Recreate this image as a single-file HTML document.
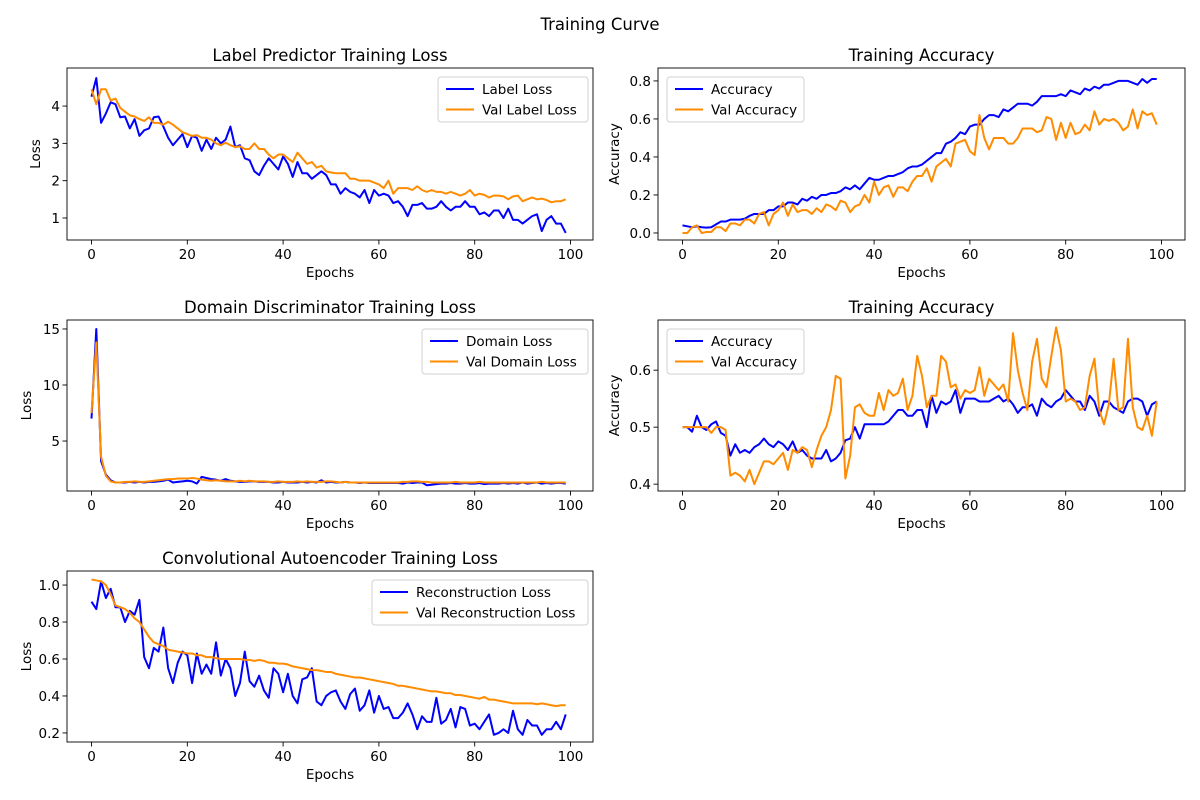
<!DOCTYPE html>
<html><head><meta charset="utf-8"><style>
html,body{margin:0;padding:0;background:#fff;}
svg{display:block;font-family:"DejaVu Sans","Liberation Sans",sans-serif;}
</style></head><body>
<svg id="fig" width="1200" height="800" viewBox="0 0 1200 800" xmlns="http://www.w3.org/2000/svg">
<rect width="1200" height="800" fill="#fff"/>
<text x="600" y="30" font-size="16.5" text-anchor="middle">Training Curve</text>
</svg>
<script>
const epochs = Array.from({length:100},(_,i)=>i);
const labelLoss=[4.25,4.75,3.55,3.8,4.1,4.05,3.7,3.72,3.4,3.65,3.2,3.35,3.4,3.7,3.72,3.45,3.15,2.95,3.1,3.25,2.9,3.2,3.15,2.8,3.1,2.85,3.15,3.0,3.1,3.45,2.9,2.95,2.6,2.55,2.25,2.15,2.4,2.6,2.45,2.3,2.65,2.45,2.1,2.5,2.2,2.2,2.05,2.15,2.25,2.15,1.9,1.9,1.65,1.8,1.7,1.65,1.55,1.75,1.4,1.75,1.6,1.65,1.6,1.4,1.45,1.3,1.05,1.35,1.35,1.4,1.25,1.25,1.3,1.45,1.3,1.2,1.3,1.3,1.45,1.3,1.3,1.1,1.15,1.05,1.2,1.2,1.0,1.25,0.95,0.95,0.85,0.95,1.05,1.1,0.65,0.95,1.05,0.85,0.85,0.6];
const valLabelLoss=[4.45,4.05,4.45,4.45,4.15,4.2,3.95,3.85,3.75,3.72,3.65,3.6,3.7,3.55,3.55,3.5,3.58,3.5,3.4,3.3,3.25,3.2,3.22,3.15,3.15,3.1,3.0,2.95,3.02,2.95,2.9,2.92,2.85,2.85,3.0,2.85,2.85,2.7,2.6,2.7,2.7,2.6,2.5,2.75,2.6,2.45,2.5,2.35,2.4,2.25,2.22,2.2,2.2,2.2,2.05,2.05,2.0,2.0,2.0,1.95,1.9,1.8,2.0,1.65,1.8,1.8,1.8,1.75,1.85,1.75,1.7,1.75,1.7,1.7,1.65,1.7,1.65,1.6,1.65,1.75,1.6,1.65,1.62,1.55,1.6,1.6,1.58,1.5,1.58,1.6,1.45,1.5,1.55,1.5,1.52,1.48,1.42,1.45,1.45,1.5];
const accuracy=[0.04,0.035,0.03,0.035,0.03,0.028,0.03,0.045,0.06,0.06,0.07,0.07,0.07,0.075,0.09,0.1,0.1,0.1,0.12,0.12,0.14,0.14,0.16,0.16,0.15,0.18,0.17,0.19,0.18,0.2,0.2,0.21,0.21,0.22,0.24,0.23,0.25,0.23,0.26,0.29,0.28,0.28,0.29,0.3,0.3,0.31,0.32,0.34,0.35,0.35,0.36,0.38,0.4,0.42,0.42,0.47,0.48,0.5,0.53,0.52,0.56,0.57,0.57,0.6,0.62,0.62,0.61,0.65,0.64,0.66,0.68,0.68,0.68,0.67,0.69,0.72,0.72,0.72,0.72,0.73,0.72,0.75,0.74,0.73,0.76,0.75,0.77,0.76,0.78,0.78,0.79,0.8,0.8,0.8,0.79,0.78,0.81,0.79,0.81,0.81];
const valAccuracy=[0.0,0.0,0.03,0.04,0.0,0.005,0.005,0.03,0.03,0.01,0.05,0.05,0.04,0.07,0.07,0.05,0.1,0.11,0.04,0.1,0.12,0.16,0.09,0.15,0.11,0.12,0.12,0.1,0.13,0.11,0.15,0.14,0.12,0.17,0.16,0.11,0.14,0.15,0.2,0.16,0.27,0.2,0.24,0.25,0.19,0.24,0.24,0.22,0.27,0.3,0.3,0.34,0.27,0.35,0.37,0.39,0.35,0.47,0.48,0.49,0.43,0.41,0.62,0.5,0.44,0.5,0.5,0.5,0.47,0.47,0.5,0.55,0.55,0.55,0.53,0.54,0.61,0.6,0.49,0.58,0.5,0.58,0.52,0.53,0.57,0.54,0.64,0.57,0.6,0.59,0.6,0.58,0.54,0.56,0.65,0.55,0.64,0.62,0.63,0.57];
const domainLoss=[7,15,3.2,2,1.5,1.3,1.3,1.3,1.35,1.3,1.35,1.3,1.35,1.35,1.4,1.45,1.55,1.3,1.35,1.4,1.45,1.4,1.2,1.8,1.7,1.6,1.55,1.45,1.6,1.45,1.4,1.35,1.35,1.4,1.4,1.35,1.35,1.35,1.3,1.3,1.35,1.3,1.3,1.3,1.35,1.3,1.35,1.3,1.5,1.3,1.35,1.3,1.3,1.35,1.3,1.3,1.25,1.3,1.25,1.25,1.25,1.25,1.25,1.25,1.25,1.2,1.3,1.25,1.3,1.3,1.05,1.1,1.15,1.2,1.2,1.25,1.2,1.2,1.25,1.2,1.2,1.25,1.15,1.2,1.2,1.2,1.25,1.2,1.25,1.2,1.3,1.2,1.25,1.3,1.2,1.25,1.2,1.25,1.25,1.2];
const valDomainLoss=[7.5,13.8,3.6,1.9,1.4,1.3,1.3,1.35,1.35,1.4,1.35,1.35,1.4,1.45,1.5,1.55,1.6,1.6,1.65,1.65,1.65,1.7,1.65,1.55,1.5,1.45,1.5,1.45,1.4,1.4,1.4,1.45,1.4,1.45,1.4,1.4,1.4,1.35,1.35,1.4,1.35,1.35,1.35,1.4,1.35,1.4,1.35,1.35,1.35,1.4,1.4,1.35,1.3,1.35,1.3,1.3,1.3,1.3,1.3,1.3,1.3,1.3,1.3,1.3,1.3,1.35,1.35,1.4,1.4,1.35,1.35,1.3,1.3,1.3,1.3,1.3,1.35,1.3,1.3,1.3,1.3,1.35,1.3,1.3,1.3,1.3,1.3,1.3,1.3,1.3,1.3,1.3,1.3,1.3,1.35,1.3,1.3,1.3,1.3,1.3];
const domainAcc=[0.5,0.5,0.492,0.52,0.5,0.495,0.505,0.51,0.49,0.485,0.45,0.47,0.455,0.46,0.455,0.465,0.47,0.48,0.47,0.465,0.475,0.47,0.46,0.475,0.455,0.46,0.45,0.445,0.445,0.445,0.46,0.44,0.445,0.455,0.477,0.48,0.5,0.48,0.505,0.505,0.505,0.505,0.505,0.51,0.52,0.53,0.53,0.52,0.52,0.53,0.53,0.5,0.555,0.525,0.545,0.54,0.545,0.565,0.525,0.55,0.55,0.55,0.545,0.545,0.545,0.55,0.555,0.545,0.55,0.54,0.525,0.535,0.535,0.54,0.52,0.55,0.54,0.535,0.545,0.55,0.565,0.555,0.545,0.545,0.53,0.555,0.545,0.52,0.545,0.545,0.535,0.53,0.525,0.545,0.55,0.55,0.545,0.52,0.54,0.545];
const valDomainAcc=[0.5,0.5,0.5,0.5,0.5,0.5,0.49,0.5,0.5,0.495,0.415,0.42,0.415,0.405,0.425,0.4,0.42,0.44,0.44,0.435,0.445,0.455,0.425,0.46,0.455,0.465,0.46,0.43,0.46,0.485,0.5,0.53,0.59,0.585,0.41,0.45,0.535,0.54,0.525,0.52,0.52,0.56,0.53,0.565,0.555,0.56,0.585,0.53,0.555,0.625,0.59,0.535,0.555,0.555,0.625,0.615,0.57,0.575,0.55,0.565,0.56,0.565,0.605,0.555,0.585,0.575,0.565,0.575,0.545,0.665,0.6,0.56,0.53,0.615,0.655,0.585,0.57,0.625,0.675,0.635,0.545,0.55,0.545,0.53,0.535,0.59,0.62,0.53,0.505,0.54,0.62,0.53,0.535,0.655,0.535,0.5,0.495,0.52,0.485,0.545];
const reconLoss=[0.91,0.87,1.02,0.93,0.98,0.88,0.88,0.8,0.86,0.84,0.92,0.61,0.55,0.66,0.64,0.77,0.55,0.47,0.58,0.64,0.62,0.47,0.63,0.52,0.57,0.52,0.69,0.51,0.6,0.55,0.4,0.47,0.64,0.48,0.45,0.51,0.43,0.39,0.55,0.52,0.42,0.52,0.4,0.36,0.49,0.5,0.55,0.37,0.35,0.4,0.42,0.43,0.37,0.33,0.41,0.44,0.32,0.35,0.43,0.31,0.4,0.33,0.34,0.28,0.28,0.31,0.36,0.3,0.22,0.29,0.26,0.26,0.39,0.25,0.27,0.33,0.23,0.34,0.33,0.24,0.25,0.22,0.26,0.3,0.19,0.2,0.22,0.2,0.32,0.22,0.19,0.27,0.24,0.24,0.19,0.22,0.22,0.26,0.22,0.3];
const valReconLoss=[1.03,1.025,1.02,1.0,0.95,0.89,0.88,0.87,0.85,0.82,0.8,0.76,0.72,0.69,0.68,0.67,0.65,0.645,0.64,0.635,0.63,0.63,0.62,0.62,0.61,0.61,0.605,0.6,0.6,0.6,0.6,0.6,0.595,0.595,0.59,0.595,0.59,0.58,0.58,0.575,0.575,0.57,0.56,0.555,0.55,0.545,0.54,0.54,0.535,0.53,0.53,0.52,0.515,0.51,0.505,0.5,0.5,0.495,0.49,0.485,0.48,0.475,0.47,0.465,0.455,0.455,0.45,0.445,0.44,0.435,0.43,0.425,0.425,0.42,0.415,0.415,0.405,0.405,0.4,0.395,0.39,0.385,0.395,0.38,0.38,0.375,0.37,0.365,0.36,0.36,0.36,0.36,0.36,0.355,0.36,0.355,0.35,0.345,0.35,0.35];
const xTicks=[0,20,40,60,80,100];
const ticks1=[1,2,3,4], ticks2=[0.0,0.2,0.4,0.6,0.8], ticks3=[5,10,15], ticks4=[0.4,0.5,0.6], ticks5=[0.2,0.4,0.6,0.8,1.0];

const NS='http://www.w3.org/2000/svg';
const fig=document.getElementById('fig');
function el(tag,attrs,parent){const e=document.createElementNS(NS,tag);for(const k in attrs)e.setAttribute(k,attrs[k]);(parent||fig).appendChild(e);return e;}

function panel(cfg){
  const g=el('g',{});
  
  
  const L=cfg.x0,R=cfg.x1,T=cfg.y0,B=cfg.y1;
  const xs=v=>L+24.5+v*4.79;
  const ys=v=>B-(v-cfg.ymin)/(cfg.ymax-cfg.ymin)*(B-T);
  const t=el('text',{x:(L+R)/2,y:T-7,'font-size':16.5,'text-anchor':'middle'},g);
  t.textContent=cfg.title;
  
  
  xTicks.forEach(v=>{const x=xs(v);
    el('line',{x1:x,x2:x,y1:B,y2:B+4.5,stroke:'#000','stroke-width':0.9},g);
    const tx=el('text',{x:x,y:B+19,'font-size':13.5,'text-anchor':'middle'},g);tx.textContent=v;
    
    
  });
  cfg.ticks.forEach(v=>{const y=ys(v);
    el('line',{x1:L-4.5,x2:L,y1:y,y2:y,stroke:'#000','stroke-width':0.9},g);
    const ty=el('text',{x:L-7,y:y+5,'font-size':13.5,'text-anchor':'end'},g);ty.textContent=cfg.fmt(v);
    
    
  });
  const xl=el('text',{x:(L+R)/2,y:B+37,'font-size':13.5,'text-anchor':'middle'},g);xl.textContent='Epochs';
  
  
  const yl=el('text',{x:0,y:0,'font-size':13.5,'text-anchor':'middle',transform:`translate(${cfg.ylx},${(T+B)/2}) rotate(-90)`},g);yl.textContent=cfg.ylabel;
  
  
  const cols=['#0000ff','#ff8c00'];
  cfg.series.forEach((s,i)=>{
    const p=el('polyline',{points:s.map((v,j)=>xs(epochs[j]).toFixed(2)+','+ys(v).toFixed(2)).join(' '),fill:'none',stroke:cols[i],'stroke-width':2,'stroke-linejoin':'round'},g);
    
    
  });
  el('rect',{x:L,y:T,width:R-L,height:B-T,fill:'none',stroke:'#000','stroke-width':0.9},g);
  const lg=el('g',{},g);
  
  
  el('rect',{x:cfg.lx,y:T+9,width:cfg.lw,height:45,rx:3,fill:'#fff','fill-opacity':0.8,stroke:'#d0d0d0','stroke-width':1},lg);
  cfg.labels.forEach((lab,i)=>{const y=T+21+i*20.5;
    el('line',{x1:cfg.lx+8,x2:cfg.lx+36,y1:y,y2:y,stroke:cols[i],'stroke-width':2},lg);
    const lt=el('text',{x:cfg.lx+44,y:y+5,'font-size':13.5},lg);lt.textContent=lab;
    
    
  });
}
const f1=v=>String(v), f2=v=>v.toFixed(1);
panel({name:'label-loss-panel',title:'Label Predictor Training Loss',x0:67,x1:593,y0:68,y1:240,ymin:0.41,ymax:5.02,ticks:ticks1,fmt:f1,ylabel:'Loss',ylx:40,series:[labelLoss,valLabelLoss],labels:['Label Loss','Val Label Loss'],lx:438,lw:150});
panel({name:'training-accuracy-panel',title:'Training Accuracy',x0:658,x1:1185,y0:68,y1:240,ymin:-0.037,ymax:0.868,ticks:ticks2,fmt:f2,ylabel:'Accuracy',ylx:619,series:[accuracy,valAccuracy],labels:['Accuracy','Val Accuracy'],lx:667,lw:137});
panel({name:'domain-loss-panel',title:'Domain Discriminator Training Loss',x0:67,x1:593,y0:320,y1:491,ymin:0.54,ymax:15.8,ticks:ticks3,fmt:f1,ylabel:'Loss',ylx:31,series:[domainLoss,valDomainLoss],labels:['Domain Loss','Val Domain Loss'],lx:422,lw:166});
panel({name:'domain-accuracy-panel',title:'Training Accuracy',x0:658,x1:1185,y0:320,y1:491,ymin:0.388,ymax:0.688,ticks:ticks4,fmt:f2,ylabel:'Accuracy',ylx:619,series:[domainAcc,valDomainAcc],labels:['Accuracy','Val Accuracy'],lx:667,lw:137});
panel({name:'reconstruction-loss-panel',title:'Convolutional Autoencoder Training Loss',x0:67,x1:593,y0:571,y1:742,ymin:0.151,ymax:1.076,ticks:ticks5,fmt:f2,ylabel:'Loss',ylx:31,series:[reconLoss,valReconLoss],labels:['Reconstruction Loss','Val Reconstruction Loss'],lx:372,lw:216});
</script>
</body></html>
